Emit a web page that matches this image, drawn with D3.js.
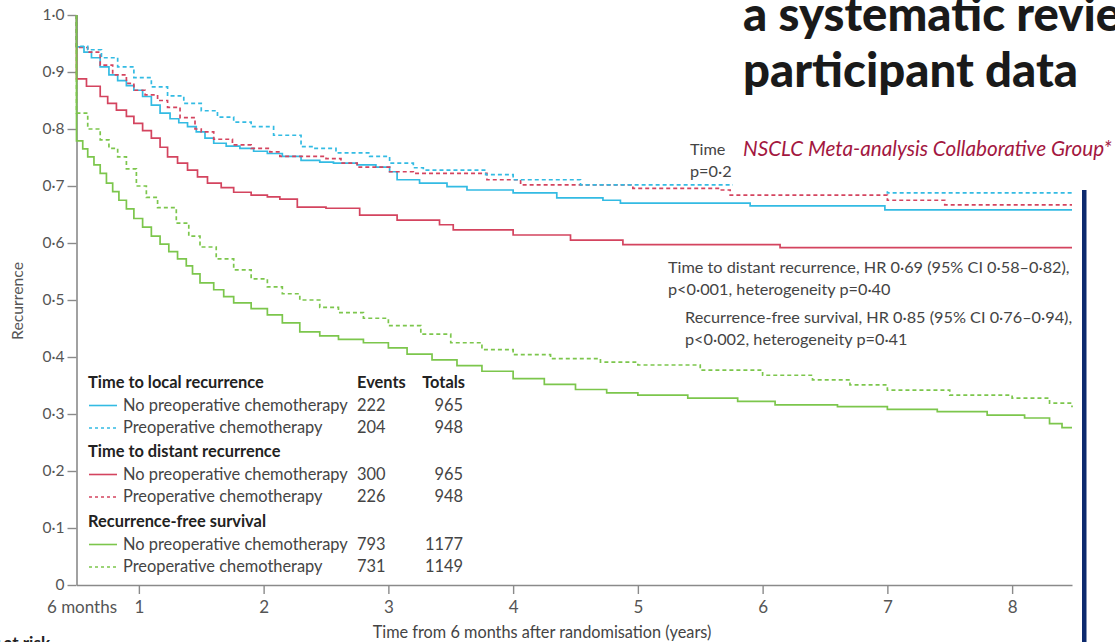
<!DOCTYPE html>
<html>
<head>
<meta charset="utf-8">
<script src="https://cdn.jsdelivr.net/npm/d3@7"></script>
<style>
  html, body { margin: 0; padding: 0; background: #fff; overflow: hidden; }
  svg { display: block; font-family: Lato, "Open Sans", sans-serif; }
</style>
</head>
<body>
<svg id="chart" width="1115" height="642"></svg>
<script>
// Kaplan–Meier estimates: [years since randomisation, proportion free of event]
// Follow-up is plotted from 6 months after randomisation.
const localNoPreop = [
  [0.5, 1.0], [0.5, 0.944], [0.56, 0.935], [0.62, 0.925], [0.69, 0.909], [0.76, 0.895],
  [0.83, 0.885], [0.90, 0.876], [0.96, 0.868], [1.03, 0.857], [1.10, 0.842], [1.17, 0.828],
  [1.25, 0.818], [1.32, 0.811], [1.39, 0.804], [1.46, 0.795], [1.53, 0.784], [1.60, 0.775],
  [1.70, 0.770], [1.81, 0.766], [1.92, 0.761], [2.03, 0.757], [2.15, 0.752], [2.30, 0.745],
  [2.45, 0.742], [2.56, 0.740], [2.75, 0.737], [2.90, 0.733], [3.01, 0.725], [3.07, 0.711],
  [3.25, 0.705], [3.47, 0.699], [3.63, 0.693], [4.00, 0.688], [4.35, 0.679], [4.72, 0.675],
  [4.86, 0.670], [5.90, 0.665], [6.98, 0.658], [8.48, 0.658]
];
const localPreop = [
  [0.5, 1.0], [0.5, 0.945], [0.59, 0.939], [0.70, 0.925], [0.83, 0.909], [0.96, 0.890],
  [1.10, 0.874], [1.23, 0.858], [1.36, 0.845], [1.50, 0.832], [1.63, 0.821], [1.76, 0.812],
  [1.90, 0.804], [2.08, 0.789], [2.30, 0.769], [2.40, 0.766], [2.58, 0.758], [2.85, 0.752],
  [3.01, 0.740], [3.20, 0.732], [3.28, 0.728], [3.78, 0.720], [4.00, 0.711], [4.54, 0.702],
  [6.30, 0.695], [7.00, 0.688], [8.48, 0.688]
];
const distantNoPreop = [
  [0.5, 1.0], [0.5, 0.888], [0.58, 0.875], [0.69, 0.857], [0.75, 0.845], [0.82, 0.833],
  [0.90, 0.822], [0.96, 0.810], [1.03, 0.797], [1.10, 0.784], [1.17, 0.768], [1.23, 0.751],
  [1.31, 0.740], [1.39, 0.728], [1.47, 0.716], [1.55, 0.705], [1.66, 0.697], [1.76, 0.689],
  [1.90, 0.684], [2.03, 0.681], [2.13, 0.677], [2.27, 0.663], [2.50, 0.661], [2.77, 0.649],
  [3.07, 0.640], [3.41, 0.632], [3.52, 0.623], [4.00, 0.614], [4.46, 0.605], [4.88, 0.597],
  [6.14, 0.592], [8.48, 0.592]
];
const distantPreop = [
  [0.5, 1.0], [0.5, 0.943], [0.59, 0.935], [0.69, 0.912], [0.79, 0.895], [0.90, 0.880],
  [0.96, 0.868], [1.05, 0.860], [1.15, 0.850], [1.23, 0.838], [1.33, 0.820], [1.45, 0.800],
  [1.50, 0.795], [1.60, 0.782], [1.75, 0.772], [1.90, 0.766], [2.05, 0.760], [2.13, 0.752],
  [2.50, 0.748], [2.62, 0.740], [2.75, 0.733], [3.01, 0.725], [3.20, 0.722], [3.79, 0.711],
  [4.06, 0.702], [4.96, 0.696], [5.66, 0.693], [5.74, 0.684], [7.00, 0.675], [7.46, 0.667],
  [8.48, 0.667]
];
const rfsNoPreop = [
  [0.5, 1.0], [0.5, 0.779], [0.55, 0.765], [0.59, 0.751], [0.64, 0.737], [0.69, 0.722],
  [0.74, 0.705], [0.79, 0.690], [0.84, 0.675], [0.90, 0.660], [0.96, 0.643], [1.03, 0.628],
  [1.10, 0.612], [1.17, 0.598], [1.24, 0.585], [1.31, 0.572], [1.38, 0.560], [1.43, 0.546],
  [1.49, 0.530], [1.60, 0.518], [1.68, 0.506], [1.76, 0.495], [1.90, 0.485], [2.03, 0.474],
  [2.15, 0.460], [2.29, 0.444], [2.45, 0.437], [2.60, 0.431], [2.80, 0.425], [3.00, 0.416],
  [3.15, 0.405], [3.35, 0.395], [3.55, 0.385], [3.75, 0.375], [4.00, 0.362], [4.25, 0.352],
  [4.50, 0.343], [4.75, 0.337], [5.00, 0.333], [5.40, 0.328], [5.80, 0.322], [6.10, 0.316],
  [6.60, 0.313], [7.00, 0.308], [7.40, 0.304], [7.80, 0.298], [8.10, 0.293], [8.30, 0.283],
  [8.40, 0.276], [8.48, 0.276]
];
const rfsPreop = [
  [0.5, 1.0], [0.5, 0.828], [0.59, 0.800], [0.69, 0.781], [0.76, 0.766], [0.83, 0.751],
  [0.90, 0.730], [0.98, 0.700], [1.06, 0.680], [1.15, 0.662], [1.30, 0.635], [1.40, 0.612],
  [1.49, 0.593], [1.62, 0.572], [1.76, 0.553], [1.90, 0.537], [2.03, 0.523], [2.15, 0.511],
  [2.29, 0.500], [2.45, 0.487], [2.60, 0.478], [2.80, 0.468], [3.00, 0.455], [3.26, 0.440],
  [3.50, 0.425], [3.75, 0.413], [4.00, 0.404], [4.30, 0.397], [4.70, 0.391], [5.00, 0.386],
  [5.50, 0.377], [6.00, 0.368], [6.40, 0.360], [6.70, 0.351], [7.00, 0.342], [7.50, 0.333],
  [8.00, 0.328], [8.30, 0.319], [8.48, 0.312]
];

// Legend content
const groupTitles = ["Time to local recurrence", "Time to distant recurrence", "Recurrence-free survival"];
const armLabels = ["No preoperative chemotherapy", "Preoperative chemotherapy"];
const eventCounts = [222, 204, 300, 226, 793, 731];
const patientTotals = [965, 948, 965, 948, 1177, 1149];

// Axis ticks
const yTickValues = [0, 0.1, 0.2, 0.3, 0.4, 0.5, 0.6, 0.7, 0.8, 0.9, 1.0];
const xTickValues = [0.5, 1, 2, 3, 4, 5, 6, 7, 8];
const xTickLabels = ["6 months", "1", "2", "3", "4", "5", "6", "7", "8"];

// Hazard-ratio annotations
const annoDistant = ["Time to distant recurrence, HR 0·69 (95% CI 0·58–0·82),", "p<0·001, heterogeneity p=0·40"];
const annoRfs = ["Recurrence-free survival, HR 0·85 (95% CI 0·76–0·94),", "p<0·002, heterogeneity p=0·41"];
const annoLocal = ["Time", "p=0·2"];

// Article heading text
const headingLines = ["a systematic review", "participant data"];
const authorLine = "NSCLC Meta-analysis Collaborative Group*";

const colors = { local: "#33bbe3", distant: "#d4445f", rfs: "#7cc64c" };

const svg = d3.select("#chart");
const x = d3.scaleLinear().domain([0.5, 8.48]).range([76.5, 1072]);
const y = d3.scaleLinear().domain([0, 1]).range([585, 15]);

function fit(sel, width) {
  const cur = sel.node().getComputedTextLength();
  const fs = parseFloat(sel.attr("font-size"));
  const nf = fs * width / cur;
  sel.attr("font-size", nf);
  return nf;
}
const fmt = d => d === 0 ? "0" : d3.format(".1f")(d).replace(".", "·");

// Axes
const gy = svg.append("g").attr("transform", `translate(${x(0.5)},0)`)
  .call(d3.axisLeft(y).tickValues(yTickValues).tickFormat(fmt).tickSize(9).tickSizeOuter(0).tickPadding(3));
const gx = svg.append("g").attr("transform", `translate(0,${y(0)})`)
  .call(d3.axisBottom(x).tickValues(xTickValues).tickFormat((d, i) => xTickLabels[i]).tickSize(9).tickSizeOuter(0).tickPadding(7));
[gx, gy].forEach(g => {
  g.select(".domain").attr("stroke", "#8a8a8a").attr("stroke-width", 1.6);
  g.selectAll(".tick line").attr("stroke", "#8a8a8a").attr("stroke-width", 1.4);
  g.selectAll(".tick text").attr("fill", "#555").attr("font-family", "Lato, sans-serif");
});
gy.selectAll(".tick text").attr("font-size", 15.5);
gx.selectAll(".tick text").attr("font-size", 17);
gx.selectAll(".tick").filter(d => d === 0.5).select("line").remove();
gx.selectAll(".tick").filter(d => d === 0.5).select("text").attr("dx", 5);

svg.append("text").text("Recurrence")
  .attr("transform", "translate(23,301) rotate(-90)")
  .attr("text-anchor", "middle").attr("fill", "#555").attr("font-size", 14)
  .call(s => fit(s, 78));
svg.append("text").text("Time from 6 months after randomisation (years)")
  .attr("x", 542).attr("y", 638).attr("text-anchor", "middle")
  .attr("fill", "#444").attr("font-size", 15)
  .call(s => fit(s, 339));
svg.append("text").text("Number at risk")
  .attr("x", 50).attr("y", 649).attr("text-anchor", "end")
  .attr("fill", "#222").attr("font-weight", 700).attr("font-size", 17);

// Curves
const line = d3.line().x(d => x(d[0])).y(d => y(d[1])).curve(d3.curveStepAfter);
const curves = [
  { data: localNoPreop, color: colors.local, dash: null },
  { data: distantPreop, color: colors.distant, dash: "4,3" },
  { data: localPreop, color: colors.local, dash: "4,3" },
  { data: distantNoPreop, color: colors.distant, dash: null },
  { data: rfsPreop, color: colors.rfs, dash: "4,3" },
  { data: rfsNoPreop, color: colors.rfs, dash: null }
];
svg.append("g").selectAll("path").data(curves).join("path")
  .attr("d", d => line(d.data))
  .attr("fill", "none")
  .attr("stroke", d => d.color)
  .attr("stroke-width", 1.7)
  .attr("stroke-dasharray", d => d.dash);

// Legend
const legend = svg.append("g");
const groupColors = [colors.local, colors.distant, colors.rfs];
const headerBase = [388, 457, 527];
const probe = legend.append("text").text(armLabels[0]).attr("font-size", 16);
const legendFs = fit(probe, 225);
probe.remove();
groupTitles.forEach((title, gi) => {
  const yb = headerBase[gi];
  legend.append("text").text(title).attr("x", 88).attr("y", yb)
    .attr("font-size", legendFs).attr("font-weight", 700).attr("fill", "#222");
  if (gi === 0) {
    legend.append("text").text("Events").attr("x", 357).attr("y", yb)
      .attr("font-size", legendFs).attr("font-weight", 700).attr("fill", "#222");
    legend.append("text").text("Totals").attr("x", 465).attr("y", yb).attr("text-anchor", "end")
      .attr("font-size", legendFs).attr("font-weight", 700).attr("fill", "#222");
  }
  armLabels.forEach((arm, ai) => {
    const k = gi * 2 + ai;
    const rb = yb + 22.5 * (ai + 1);
    legend.append("line").attr("x1", 89).attr("x2", 117).attr("y1", rb - 5).attr("y2", rb - 5)
      .attr("stroke", groupColors[gi]).attr("stroke-width", 1.6)
      .attr("stroke-dasharray", ai === 1 ? "3,3" : null);
    legend.append("text").text(arm).attr("x", 123).attr("y", rb)
      .attr("font-size", legendFs).attr("fill", "#444");
    legend.append("text").text(eventCounts[k]).attr("x", 357).attr("y", rb)
      .attr("font-size", legendFs).attr("fill", "#444");
    legend.append("text").text(patientTotals[k]).attr("x", 463).attr("y", rb).attr("text-anchor", "end")
      .attr("font-size", legendFs).attr("fill", "#444");
  });
});

// Hazard-ratio notes
const notes = svg.append("g").attr("fill", "#444");
const n1 = notes.append("text").text(annoDistant[0]).attr("x", 668).attr("y", 273).attr("font-size", 15);
const annoFs = fit(n1, 402);
notes.append("text").text(annoDistant[1]).attr("x", 668).attr("y", 295).attr("font-size", annoFs);
notes.append("text").text(annoRfs[0]).attr("x", 685).attr("y", 323).attr("font-size", annoFs);
notes.append("text").text(annoRfs[1]).attr("x", 685).attr("y", 345).attr("font-size", annoFs);
notes.append("text").text(annoLocal[0]).attr("x", 690).attr("y", 155).attr("font-size", annoFs);
notes.append("text").text(annoLocal[1]).attr("x", 690).attr("y", 177).attr("font-size", annoFs);

// Article page laid over the upper right of the figure
svg.append("rect").attr("x", 733).attr("y", 0).attr("width", 382).attr("height", 190).attr("fill", "#fff");
const h2 = svg.append("text").text(headingLines[1]).attr("x", 743).attr("y", 87)
  .attr("font-size", 40).attr("font-weight", 900).attr("fill", "#1a1a1a");
const headFs = fit(h2, 335);
svg.append("text").text(headingLines[0]).attr("x", 743).attr("y", 31)
  .attr("font-size", headFs).attr("font-weight", 900).attr("fill", "#1a1a1a");
svg.append("text").text(authorLine).attr("x", 743).attr("y", 156)
  .attr("font-size", 19).attr("font-style", "italic").attr("fill", "#a3173f")
  .call(s => fit(s, 369));
svg.append("rect").attr("x", 1082).attr("y", 190).attr("width", 4.5).attr("height", 460).attr("fill", "#0d2a6e");
</script>
</body>
</html>
